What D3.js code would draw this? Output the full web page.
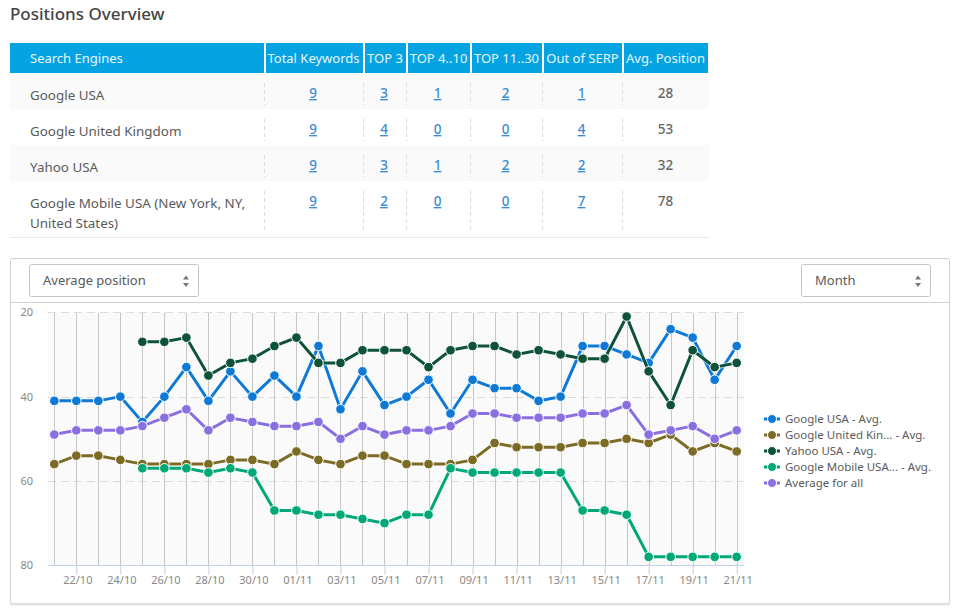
<!DOCTYPE html>
<html><head><meta charset="utf-8">
<script src="https://cdn.jsdelivr.net/npm/d3@7/dist/d3.min.js"></script>
<style>
html,body{margin:0;padding:0;background:#fff;overflow:hidden}
svg{display:block;font-family:"Noto Sans",sans-serif}
</style></head><body>
<svg id="c" width="965" height="608"></svg>
<script>
const title = "Positions Overview";
const tableHeaders = ["Search Engines","Total Keywords","TOP 3","TOP 4..10","TOP 11..30","Out of SERP","Avg. Position"];
const engines = [["Google USA"],["Google United Kingdom"],["Yahoo USA"],["Google Mobile USA (New York, NY,","United States)"]];
const totalKeywords = [9,9,9,9];
const top3 = [3,4,3,2];
const top4to10 = [1,0,1,0];
const top11to30 = [2,0,2,0];
const outOfSerp = [1,4,2,7];
const avgPosition = [28,53,32,78];
const metricLabel = "Average position";
const periodLabel = "Month";

const dates = ["21/10","22/10","23/10","24/10","25/10","26/10","27/10","28/10","29/10","30/10","31/10",
 "01/11","02/11","03/11","04/11","05/11","06/11","07/11","08/11","09/11","10/11","11/11","12/11","13/11",
 "14/11","15/11","16/11","17/11","18/11","19/11","20/11","21/11"];
const yTicks = [20,40,60,80];
const googleUSA = [41,41,41,40,46,40,33,41,34,40,35,40,28,43,34,42,40,36,44,36,38,38,41,40,28,28,30,32,24,26,36,28];
const googleUK = [56,54,54,55,56,56,56,56,55,55,56,53,55,56,54,54,56,56,56,55,51,52,52,52,51,51,50,51,49,53,51,53];
const yahooUSA = [null,null,null,null,27,27,26,35,32,31,28,26,32,32,29,29,29,33,29,28,28,30,29,30,31,31,21,34,42,29,33,32];
const googleMobile = [null,null,null,null,57,57,57,58,57,58,67,67,68,68,69,70,68,68,57,58,58,58,58,58,67,67,68,78,78,78,78,78];
const averageAll = [49,48,48,48,47,45,43,48,45,46,47,47,46,50,47,49,48,48,47,44,44,45,45,45,44,44,42,49,48,47,50,48];
const seriesNames = ["Google USA - Avg.","Google United Kin... - Avg.","Yahoo USA - Avg.","Google Mobile USA... - Avg.","Average for all"];
const seriesColors = ["#0f7ad6","#7b6b25","#0e5238","#00a878","#8a6fe0"];
const seriesValues = [googleUSA,googleUK,yahooUSA,googleMobile,averageAll];

const svg = d3.select("#c");
svg.append("text").attr("x",10).attr("y",20).attr("font-size",17).attr("font-weight",500).attr("fill","#444").text(title);

/* ---------- table ---------- */
const colEdges = [[10,264],[266,363],[365,406],[408,470],[472,542],[544,622],[624,708]];
const rowBands = [[73,109],[109,145],[145,181],[181,237]];
const rows = engines.map((e,i)=>({e,vals:[totalKeywords[i],top3[i],top4to10[i],top11to30[i],outOfSerp[i]],avg:avgPosition[i]}));
const T = svg.append("g");
T.selectAll("rect.h").data(tableHeaders).join("rect").attr("class","h")
 .attr("x",(d,i)=>colEdges[i][0]).attr("y",43).attr("width",(d,i)=>colEdges[i][1]-colEdges[i][0]).attr("height",30).attr("fill","#05a3e2");
T.selectAll("text.h").data(tableHeaders).join("text").attr("class","h")
 .attr("x",(d,i)=>i==0?30:(colEdges[i][0]+colEdges[i][1])/2-(i==1?1:.5)).attr("y",63)
 .attr("text-anchor",(d,i)=>i==0?"start":"middle").attr("font-size",13).attr("fill","#e8f6fd")
 .text(d=>d);
rows.forEach((r,i)=>{
  const [y0,y1]=rowBands[i];
  if(i%2==0) T.append("rect").attr("x",10).attr("y",y0).attr("width",699).attr("height",y1-y0).attr("fill","#fafafa");
  colEdges.slice(0,6).forEach(c=>{
    T.append("line").attr("x1",c[1]+.5).attr("x2",c[1]+.5).attr("y1",y0+10).attr("y2",y1-4)
     .attr("stroke","#dcdcdc").attr("stroke-dasharray","4 3");
  });
  r.e.forEach((t,k)=>{
    T.append("text").attr("x",30).attr("y",y0+27+k*20).attr("font-size",13.4).attr("fill","#5a5a5a").text(t);
  });
  r.vals.forEach((v,k)=>{
    const c=colEdges[k+1];
    T.append("text").attr("x",(c[0]+c[1])/2-1.5).attr("y",y0+25).attr("text-anchor","middle")
     .attr("font-size",13.5).attr("font-weight",500).attr("fill","#3a8bd6").attr("text-decoration","underline").text(v);
  });
  T.append("text").attr("x",(colEdges[6][0]+colEdges[6][1])/2-.5).attr("y",y0+25).attr("text-anchor","middle")
     .attr("font-size",13.5).attr("font-weight",500).attr("fill","#666").text(r.avg);
});
T.append("line").attr("x1",10).attr("x2",709).attr("y1",237.5).attr("y2",237.5).attr("stroke","#e8e8e8");

/* ---------- card ---------- */
svg.append("rect").attr("x",10.5).attr("y",258.5).attr("width",939).attr("height",345).attr("rx",2).attr("fill","#fff").attr("stroke","#cfcfcf");
svg.append("line").attr("x1",10).attr("x2",950).attr("y1",302.5).attr("y2",302.5).attr("stroke","#cfcfcf");
svg.append("line").attr("x1",10).attr("x2",950).attr("y1",604.5).attr("y2",604.5).attr("stroke","#e6e6e6").attr("stroke-width",2);

function selectBox(x,w,label){
  const g=svg.append("g");
  g.append("rect").attr("x",x+.5).attr("y",264.5).attr("width",w-1).attr("height",32).attr("rx",2).attr("fill","#fff").attr("stroke","#c4c4c4");
  g.append("text").attr("x",x+14).attr("y",285).attr("font-size",13).attr("fill","#5a5a5a").text(label);
  const ax=x+w-13;
  g.append("path").attr("d",`M${ax-3} 279.5L${ax} 275.5L${ax+3} 279.5ZM${ax-3} 283L${ax} 287L${ax+3} 283Z`).attr("fill","#777");
}
selectBox(29,170,metricLabel);
selectBox(801,130,periodLabel);

/* ---------- chart ---------- */
const x = d3.scalePoint().domain(dates).range([54.3,736.7]);
const y = d3.scaleLinear().domain([20,80]).range([312.3,565.3]);
const P = svg.append("g");
P.append("rect").attr("x",48).attr("y",312).attr("width",696).attr("height",253).attr("fill","#fafafa");

P.append("g").selectAll("line").data(yTicks.slice(0,3)).join("line")
 .attr("x1",48).attr("x2",744).attr("y1",d=>Math.round(y(d))+.5).attr("y2",d=>Math.round(y(d))+.5)
 .attr("stroke","#dcdcdc").attr("stroke-dasharray","8 5");
P.append("g").selectAll("line").data(dates).join("line")
 .attr("x1",d=>Math.round(x(d))+.5).attr("x2",d=>Math.round(x(d))+.5).attr("y1",313).attr("y2",565)
 .attr("stroke","#c6c6c6");

const xAxis = d3.axisBottom(x).tickValues(dates.filter((d,i)=>i%2==1)).tickSize(9).tickPadding(2);
const gx = P.append("g").attr("transform","translate(0,565.5)").call(xAxis);
gx.select(".domain").attr("d","M48,0H744").attr("stroke","#c0d0e8");
gx.selectAll(".tick line").attr("stroke","#c0d0e8");
gx.selectAll(".tick text").attr("font-family","Noto Sans").attr("font-size",11).attr("fill","#888").attr("dx",1);

const yAxis = d3.axisLeft(y).tickValues(yTicks).tickSize(0).tickPadding(15);
const gy = P.append("g").attr("transform","translate(48,0)").call(yAxis);
gy.select(".domain").remove();
gy.selectAll(".tick text").attr("font-family","Noto Sans").attr("font-size",11).attr("fill","#888");

const line = d3.line().defined(d=>d.v!==null).x(d=>x(d.k)).y(d=>y(d.v));
seriesValues.forEach((vals,i)=>{
  const pts = vals.map((v,j)=>({k:dates[j],v}));
  const g = P.append("g");
  g.append("path").datum(pts).attr("d",line).attr("fill","none").attr("stroke","#fff").attr("stroke-opacity",.6).attr("stroke-width",5);
  g.append("path").datum(pts).attr("d",line).attr("fill","none").attr("stroke",seriesColors[i]).attr("stroke-width",3);
  g.selectAll("circle").data(pts.filter(d=>d.v!==null)).join("circle")
   .attr("cx",d=>x(d.k)).attr("cy",d=>y(d.v)).attr("r",4.8)
   .attr("fill",seriesColors[i]).attr("stroke","#fff").attr("stroke-width",1);
});

/* ---------- legend ---------- */
const L = svg.append("g");
seriesNames.forEach((n,i)=>{
  const cy = 419+i*16;
  L.append("line").attr("x1",764).attr("x2",780).attr("y1",cy).attr("y2",cy).attr("stroke",seriesColors[i]).attr("stroke-width",3);
  L.append("circle").attr("cx",772).attr("cy",cy).attr("r",4.5).attr("fill",seriesColors[i]).attr("stroke","#fff").attr("stroke-width",1);
  L.append("text").attr("x",785).attr("y",cy+4).attr("font-size",11.5).attr("fill","#5a5a5a").text(n);
});
</script>
</body></html>
